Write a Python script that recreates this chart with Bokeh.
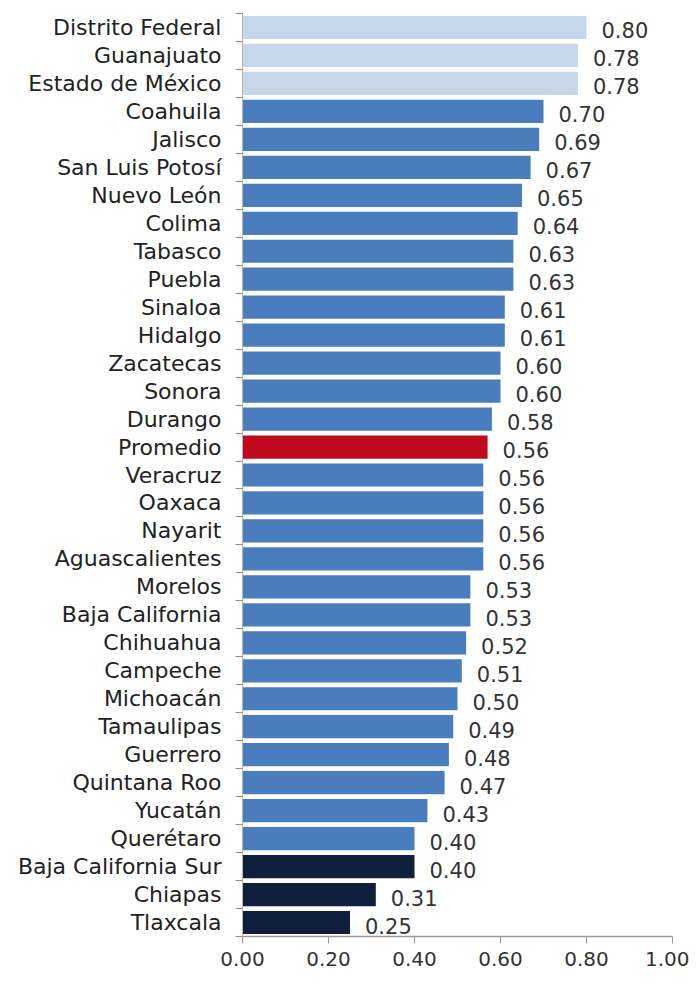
from bokeh.plotting import figure
from bokeh.models import ColumnDataSource, FixedTicker, NumeralTickFormatter, Range1d
from bokeh.core.properties import value
from bokeh.embed import file_html
from bokeh.resources import INLINE

states = ["Distrito Federal", "Guanajuato", "Estado de México", "Coahuila", "Jalisco",
          "San Luis Potosí", "Nuevo León", "Colima", "Tabasco", "Puebla", "Sinaloa",
          "Hidalgo", "Zacatecas", "Sonora", "Durango", "Promedio", "Veracruz", "Oaxaca",
          "Nayarit", "Aguascalientes", "Morelos", "Baja California", "Chihuahua",
          "Campeche", "Michoacán", "Tamaulipas", "Guerrero", "Quintana Roo", "Yucatán",
          "Querétaro", "Baja California Sur", "Chiapas", "Tlaxcala"]
values = [0.80, 0.78, 0.78, 0.70, 0.69, 0.67, 0.65, 0.64, 0.63, 0.63, 0.61, 0.61, 0.60,
          0.60, 0.58, 0.57, 0.56, 0.56, 0.56, 0.56, 0.53, 0.53, 0.52, 0.51, 0.50, 0.49,
          0.48, 0.47, 0.43, 0.40, 0.40, 0.31, 0.25]
labels = ["0.80", "0.78", "0.78", "0.70", "0.69", "0.67", "0.65", "0.64", "0.63", "0.63",
          "0.61", "0.61", "0.60", "0.60", "0.58", "0.56", "0.56", "0.56", "0.56", "0.56",
          "0.53", "0.53", "0.52", "0.51", "0.50", "0.49", "0.48", "0.47", "0.43", "0.40",
          "0.40", "0.31", "0.25"]
groups = ["top"] * 3 + ["mid"] * 12 + ["avg"] + ["mid"] * 14 + ["low"] * 3
x_ticks = [0.0, 0.2, 0.4, 0.6, 0.8, 1.0]

palette = {"top": "#c6d7ea", "mid": "#4a7dbd", "avg": "#c10a1d", "low": "#0f1f3d"}

n = len(states)
ypos = [n - 1 - i for i in range(n)]
colors = [palette[g] for g in groups]

src = ColumnDataSource(dict(y=ypos, v=values, lab=labels, c=colors, name=states))

p = figure(width=689, height=978, output_backend="svg", toolbar_location=None,
           x_range=Range1d(0, 1.0), y_range=Range1d(-0.5, n - 0.5),
           min_border_left=242, min_border_right=17, min_border_top=13,
           min_border_bottom=42)

p.hbar(y="y", right="v", left=0, height=0.83, fill_color="c", line_color=None, source=src)
p.text(x="v", y="y", text="lab", source=src, x_offset=15, y_offset=3,
       text_font=value("DejaVu Sans"), text_font_size="21px", text_color="#333333",
       text_align="left", text_baseline="middle")

p.xgrid.visible = False
p.ygrid.visible = False
p.outline_line_color = None

# x axis
p.xaxis.ticker = FixedTicker(ticks=x_ticks)
p.xaxis.formatter = NumeralTickFormatter(format="0.00")
p.xaxis.axis_line_color = "#9a9a9a"
p.xaxis.axis_line_width = 1.5
p.xaxis.major_tick_line_color = "#9a9a9a"
p.xaxis.major_tick_out = 7
p.xaxis.major_tick_in = 0
p.xaxis.minor_tick_line_color = None
p.xaxis.major_label_standoff = 8
p.xaxis.major_label_text_font = "DejaVu Sans"
p.xaxis.major_label_text_font_size = "20px"
p.xaxis.major_label_text_color = "#333333"

# y axis: labels at centres, ticks at category boundaries
p.yaxis.ticker = FixedTicker(ticks=ypos, minor_ticks=[k - 0.5 for k in range(n + 1)])
p.yaxis.major_label_overrides = {y: s for y, s in zip(ypos, states)}
p.yaxis.major_tick_line_color = None
p.yaxis.major_tick_out = 0
p.yaxis.major_tick_in = 0
p.yaxis.minor_tick_line_color = "#b08a70"
p.yaxis.minor_tick_out = 7
p.yaxis.minor_tick_in = 0
p.yaxis.axis_line_color = "#b5b5b5"
p.yaxis.major_label_standoff = 14
p.yaxis.major_label_text_font = "DejaVu Sans"
p.yaxis.major_label_text_font_size = "22px"
p.yaxis.major_label_text_color = "#222222"

open("out.html", "w").write(file_html(p, INLINE))
